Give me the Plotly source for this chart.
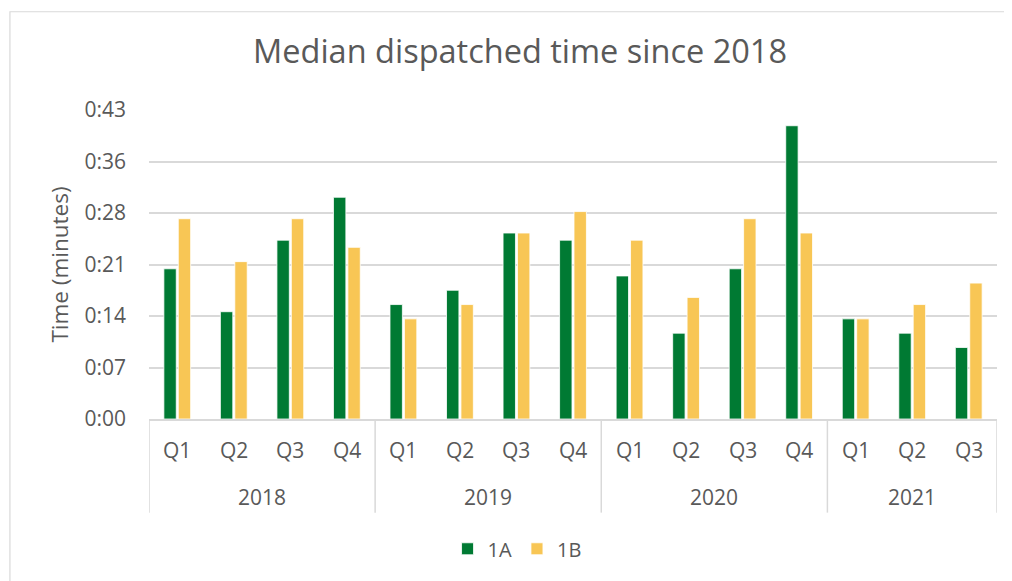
import plotly.graph_objects as go

years = ["2018", "2019", "2020", "2021"]
quarters = ["Q1", "Q2", "Q3", "Q4"] * 3 + ["Q1", "Q2", "Q3"]
year_of_bar = ["2018"] * 4 + ["2019"] * 4 + ["2020"] * 4 + ["2021"] * 3
categories = [y + " " + q for y, q in zip(year_of_bar, quarters)]

# median dispatched time, minutes
time_1a = [21, 15, 25, 31, 16, 18, 26, 25, 20, 12, 21, 41, 14, 12, 10]
time_1b = [28, 22, 28, 24, 14, 16, 26, 29, 25, 17, 28, 26, 14, 16, 19]

tick_vals = [0, 7.2, 14.4, 21.6, 28.8, 36, 43.2]
tick_text = ["0:00", "0:07", "0:14", "0:21", "0:28", "0:36", "0:43"]

FONT = "Open Sans"
GREY = "#595959"
LINE = "#d9d9d9"

fig = go.Figure()
fig.add_trace(go.Bar(
    x=categories, y=time_1a, name="1A",
    marker=dict(color="#007A33", line=dict(color="white", width=0.8)),
))
fig.add_trace(go.Bar(
    x=categories, y=time_1b, name="1B",
    marker=dict(color="#F8C655", line=dict(color="white", width=0.8)),
))

# two-level category labels, drawn by hand like Excel does
for cat, q in zip(categories, quarters):
    fig.add_annotation(x=cat, y=-0.099, yref="paper", text=q, showarrow=False,
                       font=dict(size=21, color=GREY), yanchor="middle")

bounds = [-0.5]
for yr in years:
    idx = [i for i, y in enumerate(year_of_bar) if y == yr]
    fig.add_annotation(x=(idx[0] + idx[-1]) / 2, y=-0.253, yref="paper", text=yr,
                       showarrow=False, font=dict(size=21, color=GREY), yanchor="middle")
    bounds.append(idx[-1] + 0.5)

for b in bounds:
    fig.add_shape(type="line", xref="x", yref="paper", x0=b, x1=b, y0=0, y1=-0.303,
                  line=dict(color=LINE, width=1.5))

# thin outer chart border (Excel chart area)
fig.add_shape(type="rect", xref="paper", yref="paper",
              x0=-0.164, x1=1.2, y0=-1.0, y1=1.318,
              line=dict(color=LINE, width=1.2), fillcolor="rgba(0,0,0,0)")

# page body has an 8px margin, so the figure is a bit smaller than the window
fig.update_layout(
    width=1004, height=573,
    margin=dict(l=141, r=15, t=102, b=162),
    plot_bgcolor="white", paper_bgcolor="white",
    font=dict(family=FONT, color=GREY, size=21),
    title=dict(text="Median dispatched time since 2018", x=0.51, xanchor="center",
               y=1 - 44 / 573, yanchor="middle", font=dict(size=32.5, color=GREY)),
    barmode="group", bargap=0.49, bargroupgap=0.14,
    showlegend=True,
    legend=dict(orientation="h", x=0.434, xanchor="center", y=-0.42, yanchor="middle",
                font=dict(size=20, color=GREY), itemwidth=30),
    xaxis=dict(type="category", showgrid=False, showline=True, linecolor=LINE,
               linewidth=1.5, showticklabels=False, ticks="", automargin=False,
               range=[-0.5, 14.5]),
    yaxis=dict(range=[0, 43.2], tickvals=tick_vals, ticktext=tick_text,
               showgrid=True, gridcolor=LINE, gridwidth=1.5, zeroline=False,
               showline=False, tickfont=dict(size=21, color=GREY),
               ticklabelstandoff=22, automargin=False,
               title=dict(text="Time (minutes)", standoff=9,
                          font=dict(size=22.5, color=GREY))),
)

fig.write_html("out.html")
